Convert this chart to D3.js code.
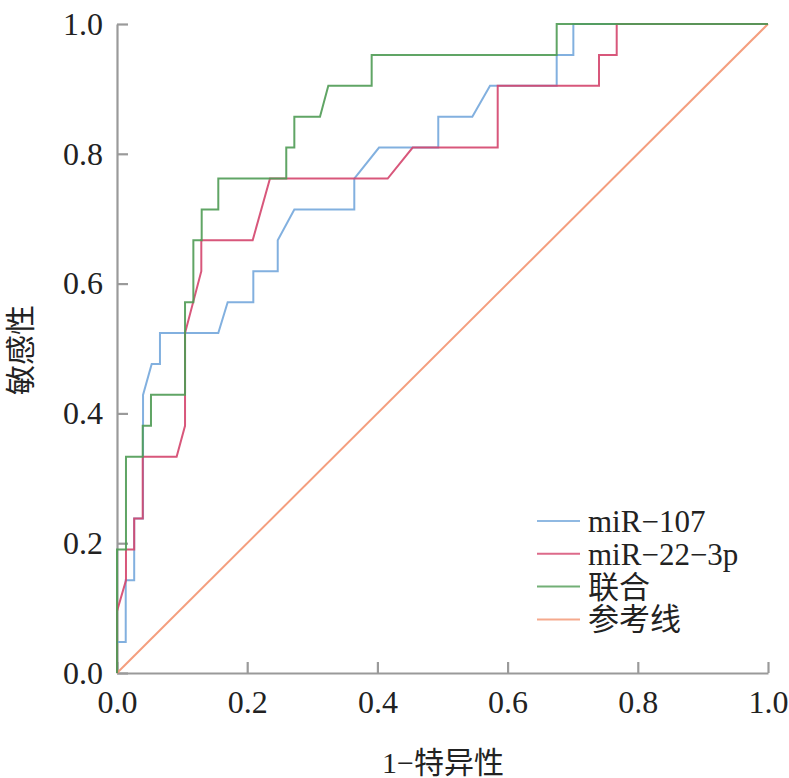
<!DOCTYPE html>
<html><head><meta charset="utf-8">
<script src="https://cdn.jsdelivr.net/npm/d3@7"></script>
<style>
body{margin:0;background:#fff;}
svg text{font-family:"Liberation Serif","Noto Sans CJK SC",serif;fill:#222;}
</style></head>
<body><svg id="c" width="789" height="778"></svg>
<script>
const N = 21; // positives (sensitivity steps)
const seriesNames = ["miR\u2212107","miR\u221222\u22123p","联合","参考线"];
const seriesColors = ["#74a7db","#d4456d","#4f9b54","#f39370"];
const xTicks = [0,0.2,0.4,0.6,0.8,1.0];
const yTicks = [0,0.2,0.4,0.6,0.8,1.0];
// [1 - specificity, true positives out of 21]
const miR107 = [[0,0],[0,1],[0.0134,1],[0.0134,3],[0.0264,3],[0.0264,5],[0.0400,5],[0.0400,9],[0.0533,10],[0.0660,10],[0.0660,11],[0.1556,11],[0.1700,12],[0.2094,12],[0.2094,13],[0.2469,13],[0.2469,14],[0.2724,15],[0.3645,15],[0.3645,16],[0.4025,17],[0.4935,17],[0.4935,18],[0.5458,18],[0.5730,19],[0.6754,19],[0.6754,20],[0.7010,20],[0.7010,21],[1,21]];
const miR22 = [[0,0],[0,2],[0.0138,3],[0.0138,4],[0.0264,4],[0.0264,5],[0.0395,5],[0.0395,7],[0.0916,7],[0.1045,8],[0.1045,11],[0.1295,13],[0.1295,14],[0.2084,14],[0.2350,16],[0.4158,16],[0.4542,17],[0.5848,17],[0.5848,19],[0.7404,19],[0.7404,20],[0.7676,20],[0.7676,21],[1,21]];
const combined = [[0,0],[0,4],[0.0138,4],[0.0138,7],[0.0395,7],[0.0395,8],[0.0522,8],[0.0522,9],[0.1045,9],[0.1045,12],[0.1173,12],[0.1173,14],[0.1301,14],[0.1301,15],[0.1556,15],[0.1556,16],[0.2600,16],[0.2600,17],[0.2724,17],[0.2724,18],[0.3118,18],[0.3246,19],[0.3912,19],[0.3912,20],[0.6754,20],[0.6754,21],[1,21]];
const reference = [[0,0],[1,21]];

const svg = d3.select("#c");
const L=117, R=768, T=24, B=673;
const x = d3.scaleLinear().domain([0,1]).range([L,R]);
const y = d3.scaleLinear().domain([0,1]).range([B,T]);
const fmt = d3.format(".1f");

const gx = svg.append("g").attr("transform",`translate(0,${B})`)
  .call(d3.axisBottom(x).tickValues(xTicks).tickFormat(fmt).tickSizeInner(-11).tickSizeOuter(0).tickPadding(17));
const gy = svg.append("g").attr("transform",`translate(${L},0)`)
  .call(d3.axisLeft(y).tickValues(yTicks).tickFormat(fmt).tickSizeInner(-11).tickSizeOuter(0).tickPadding(14));
[gx,gy].forEach(g=>{
  g.selectAll("path.domain").attr("stroke","#9a9a9a").attr("stroke-width",2.2);
  g.selectAll(".tick line").attr("stroke","#9a9a9a").attr("stroke-width",2.2);
  g.selectAll(".tick text").attr("font-size",32).attr("fill","#222")
    .attr("font-family","Liberation Serif, serif");
});

const line = d3.line().x(d=>x(d[0])).y(d=>y(d[1]/N));
const data = [miR107, miR22, combined, reference];
[3,0,1,2].forEach(i=>{
  svg.append("path").datum(data[i]).attr("d",line).attr("fill","none")
    .attr("stroke",seriesColors[i]).attr("stroke-width",2).attr("stroke-opacity",0.9);
});

// legend
const lg = svg.append("g");
seriesNames.forEach((n,i)=>{
  const yy = 521 + i*32.8;
  lg.append("line").attr("x1",537).attr("x2",580).attr("y1",yy).attr("y2",yy)
    .attr("stroke",seriesColors[i]).attr("stroke-width",2).attr("stroke-opacity",0.8);
  lg.append("text").attr("x",588).attr("y",yy+11).attr("font-size",31).text(n);
});

// axis titles
svg.append("text").attr("x",443).attr("y",773).attr("text-anchor","middle").attr("font-size",30).text("1\u2212特异性");
svg.append("text").attr("transform","translate(31,350) rotate(-90)").attr("text-anchor","middle").attr("font-size",30).text("敏感性");
</script></body></html>
